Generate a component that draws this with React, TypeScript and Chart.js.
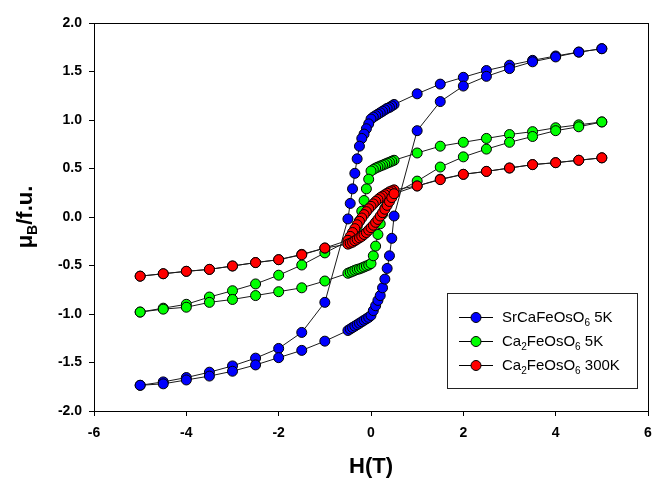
import React, { useEffect, useRef } from "react";
import { Chart, registerables } from "chart.js";

Chart.register(...registerables);

// Field sweep: descending branch (+5 T -> -5 T) and ascending branch (-5 T -> +5 T)
const H_DESC = [5, 4.5, 4, 3.5, 3, 2.5, 2, 1.5, 1,
  0.5, 0.45, 0.4, 0.35, 0.3, 0.25, 0.2, 0.15, 0.1, 0.05, 0, -0.05, -0.1, -0.15, -0.2, -0.25, -0.3, -0.35, -0.4, -0.45, -0.5,
  -1, -1.5, -2, -2.5, -3, -3.5, -4, -4.5, -5];
const H_ASC = [-5, -4.5, -4, -3.5, -3, -2.5, -2, -1.5, -1,
  -0.5, -0.45, -0.4, -0.35, -0.3, -0.25, -0.2, -0.15, -0.1, -0.05, 0, 0.05, 0.1, 0.15, 0.2, 0.25, 0.3, 0.35, 0.4, 0.45, 0.5,
  1, 1.5, 2, 2.5, 3, 3.5, 4, 4.5, 5];

// SrCaFeOsO6 5K
const SR_5K_DESC = [1.735, 1.70, 1.66, 1.615, 1.565, 1.51, 1.44, 1.37, 1.27,
  1.16, 1.145, 1.13, 1.12, 1.105, 1.09, 1.075, 1.06, 1.045, 1.03, 1.01, 0.96, 0.91, 0.855, 0.81, 0.73, 0.60, 0.45, 0.29, 0.14, -0.02,
  -0.88, -1.19, -1.355, -1.455, -1.535, -1.60, -1.655, -1.70, -1.735];
const SR_5K_ASC = [-1.735, -1.72, -1.68, -1.64, -1.59, -1.525, -1.45, -1.375, -1.28,
  -1.17, -1.155, -1.14, -1.125, -1.11, -1.095, -1.08, -1.065, -1.05, -1.035, -1.015, -0.965, -0.915, -0.86, -0.81, -0.73, -0.64, -0.53, -0.40, -0.22, 0.01,
  0.89, 1.19, 1.35, 1.45, 1.53, 1.60, 1.65, 1.70, 1.735];

// Ca2FeOsO6 5K
const CA_5K_DESC = [0.98, 0.95, 0.92, 0.88, 0.85, 0.81, 0.77, 0.73, 0.66,
  0.585, 0.575, 0.565, 0.555, 0.545, 0.535, 0.525, 0.515, 0.505, 0.49, 0.475, 0.39, 0.29, 0.17, 0.06, -0.04, -0.10, -0.15, -0.19, -0.22, -0.25,
  -0.37, -0.495, -0.60, -0.69, -0.76, -0.825, -0.90, -0.94, -0.98];
const CA_5K_ASC = [-0.98, -0.95, -0.93, -0.88, -0.85, -0.81, -0.77, -0.73, -0.66,
  -0.58, -0.57, -0.56, -0.55, -0.54, -0.535, -0.525, -0.515, -0.505, -0.495, -0.48, -0.40, -0.30, -0.18, -0.07, 0.03, 0.09, 0.14, 0.18, 0.21, 0.24,
  0.37, 0.515, 0.62, 0.70, 0.77, 0.83, 0.89, 0.93, 0.98];

// Ca2FeOsO6 300K
const CA_300K_DESC = [0.61, 0.585, 0.56, 0.54, 0.505, 0.47, 0.44, 0.39, 0.32,
  0.28, 0.27, 0.26, 0.245, 0.23, 0.215, 0.20, 0.18, 0.16, 0.135, 0.11, 0.085, 0.055, 0.025, -0.01, -0.045, -0.08, -0.12, -0.16, -0.20, -0.24,
  -0.32, -0.385, -0.44, -0.47, -0.505, -0.54, -0.56, -0.585, -0.61];
const CA_300K_ASC = [-0.61, -0.585, -0.56, -0.54, -0.505, -0.47, -0.44, -0.39, -0.32,
  -0.28, -0.27, -0.26, -0.245, -0.23, -0.215, -0.20, -0.18, -0.16, -0.135, -0.11, -0.085, -0.055, -0.025, 0.01, 0.045, 0.08, 0.12, 0.16, 0.20, 0.24,
  0.32, 0.385, 0.44, 0.47, 0.505, 0.54, 0.56, 0.585, 0.61];

const X_TICKS = [-6, -4, -2, 0, 2, 4, 6];
const Y_TICKS = [-2.0, -1.5, -1.0, -0.5, 0.0, 0.5, 1.0, 1.5, 2.0];

// Legend labels as [text, isSubscript] segments
const LEGEND_LABELS: [string, boolean][][] = [
  [["SrCaFeOsO", false], ["6", true], [" 5K", false]],
  [["Ca", false], ["2", true], ["FeOsO", false], ["6", true], [" 5K", false]],
  [["Ca", false], ["2", true], ["FeOsO", false], ["6", true], [" 300K", false]],
];
const COLORS = ["#0000ff", "#00ff00", "#ff0000"];

function loop(desc: number[], asc: number[]) {
  const pts: { x: number; y: number }[] = [];
  H_DESC.forEach((h, i) => pts.push({ x: h, y: desc[i] }));
  H_ASC.forEach((h, i) => pts.push({ x: h, y: asc[i] }));
  return pts;
}

const overlay = {
  id: "overlay",
  afterDraw(chart: any) {
    const ctx = chart.ctx as CanvasRenderingContext2D;
    const a = chart.chartArea;
    ctx.save();
    // frame
    ctx.strokeStyle = "#000";
    ctx.lineWidth = 1;
    ctx.strokeRect(Math.round(a.left) + 0.5, Math.round(a.top) + 0.5, Math.round(a.right - a.left), Math.round(a.bottom - a.top));

    // x title
    ctx.fillStyle = "#000";
    ctx.font = "bold 22px Arial";
    ctx.textAlign = "center";
    ctx.textBaseline = "middle";
    ctx.fillText("H(T)", (a.left + a.right) / 2, 467);

    // y title (rotated) μB/f.u.
    ctx.save();
    ctx.translate(25, (a.top + a.bottom) / 2);
    ctx.rotate(-Math.PI / 2);
    const big = "bold 22px Arial";
    const small = "bold 14px Arial";
    ctx.font = big;
    const w1 = ctx.measureText("μ").width;
    const w3 = ctx.measureText("/f.u.").width;
    ctx.font = small;
    const w2 = ctx.measureText("B").width;
    let x0 = -(w1 + w2 + w3) / 2;
    ctx.textAlign = "left";
    ctx.textBaseline = "alphabetic";
    ctx.font = big;
    ctx.fillText("μ", x0, 7);
    x0 += w1;
    ctx.font = small;
    ctx.fillText("B", x0, 12);
    x0 += w2;
    ctx.font = big;
    ctx.fillText("/f.u.", x0, 7);
    ctx.restore();

    // legend
    const bx = 447, by = 293, bw = 190, bh = 95;
    ctx.fillStyle = "#fff";
    ctx.fillRect(bx, by, bw, bh);
    ctx.strokeStyle = "#222";
    ctx.lineWidth = 1;
    ctx.strokeRect(bx + 0.5, by + 0.5, bw, bh);
    const rows = [317, 341, 365];
    LEGEND_LABELS.forEach((segs, i) => {
      const y = rows[i];
      ctx.strokeStyle = "#000";
      ctx.beginPath();
      ctx.moveTo(459, y + 0.5);
      ctx.lineTo(493, y + 0.5);
      ctx.stroke();
      ctx.beginPath();
      ctx.arc(476, y + 0.5, 5, 0, Math.PI * 2);
      ctx.fillStyle = COLORS[i];
      ctx.fill();
      ctx.stroke();
      let tx = 502;
      ctx.fillStyle = "#000";
      ctx.textAlign = "left";
      ctx.textBaseline = "alphabetic";
      segs.forEach(([t, sub]) => {
        ctx.font = sub ? "10px Arial" : "15px Arial";
        ctx.fillText(t, tx, sub ? y + 9 : y + 5);
        tx += ctx.measureText(t).width;
      });
    });
    ctx.restore();
  },
};

export default function App() {
  const ref = useRef<HTMLCanvasElement>(null);
  useEffect(() => {
    if (!ref.current) return;
    const mk = (label: string, desc: number[], asc: number[], color: string, order: number) => ({
      label,
      data: loop(desc, asc),
      showLine: true,
      borderColor: "#1a1a1a",
      borderWidth: 1,
      pointBackgroundColor: color,
      pointBorderColor: "#000",
      pointBorderWidth: 1,
      pointRadius: 5,
      tension: 0,
      order,
    });
    const chart = new Chart(ref.current, {
      type: "scatter",
      data: {
        datasets: [
          mk("SrCaFeOsO6 5K", SR_5K_DESC, SR_5K_ASC, COLORS[0], 3),
          mk("Ca2FeOsO6 5K", CA_5K_DESC, CA_5K_ASC, COLORS[1], 2),
          mk("Ca2FeOsO6 300K", CA_300K_DESC, CA_300K_ASC, COLORS[2], 1),
        ],
      },
      options: {
        animation: false,
        responsive: false,
        devicePixelRatio: 1,
        layout: { padding: { top: 23, right: 6, left: 0, bottom: 0 } },
        plugins: { legend: { display: false }, tooltip: { enabled: false } },
        scales: {
          x: {
            type: "linear",
            min: X_TICKS[0],
            max: X_TICKS[X_TICKS.length - 1],
            afterBuildTicks: (s: any) => { s.ticks = X_TICKS.map((v) => ({ value: v })); },
            afterFit: (s: any) => { s.height = 70; s.paddingLeft = 0; s.paddingRight = 0; },
            ticks: { color: "#000", font: { family: "Arial", size: 14, weight: "bold" }, padding: 9, maxRotation: 0, callback: (v: any) => String(v) },
            grid: { drawOnChartArea: false, drawTicks: true, tickLength: 5, color: "#000" },
            border: { display: true, color: "#000" },
          },
          y: {
            type: "linear",
            min: Y_TICKS[0],
            max: Y_TICKS[Y_TICKS.length - 1],
            afterBuildTicks: (s: any) => { s.ticks = Y_TICKS.map((v) => ({ value: v })); },
            afterFit: (s: any) => { s.width = 94; s.paddingTop = 0; s.paddingBottom = 0; },
            ticks: { color: "#000", font: { family: "Arial", size: 14, weight: "bold" }, padding: 7, callback: (v: any) => Number(v).toFixed(1) },
            grid: { drawOnChartArea: false, drawTicks: true, tickLength: 5, color: "#000" },
            border: { display: true, color: "#000" },
          },
        },
      },
      plugins: [overlay],
    } as any);
    return () => chart.destroy();
  }, []);
  return (
    <div style={{ position: "fixed", left: 0, top: 0, width: 654, height: 481, background: "#fff" }}>
      <canvas ref={ref} width={654} height={481} style={{ display: "block" }} />
    </div>
  );
}
